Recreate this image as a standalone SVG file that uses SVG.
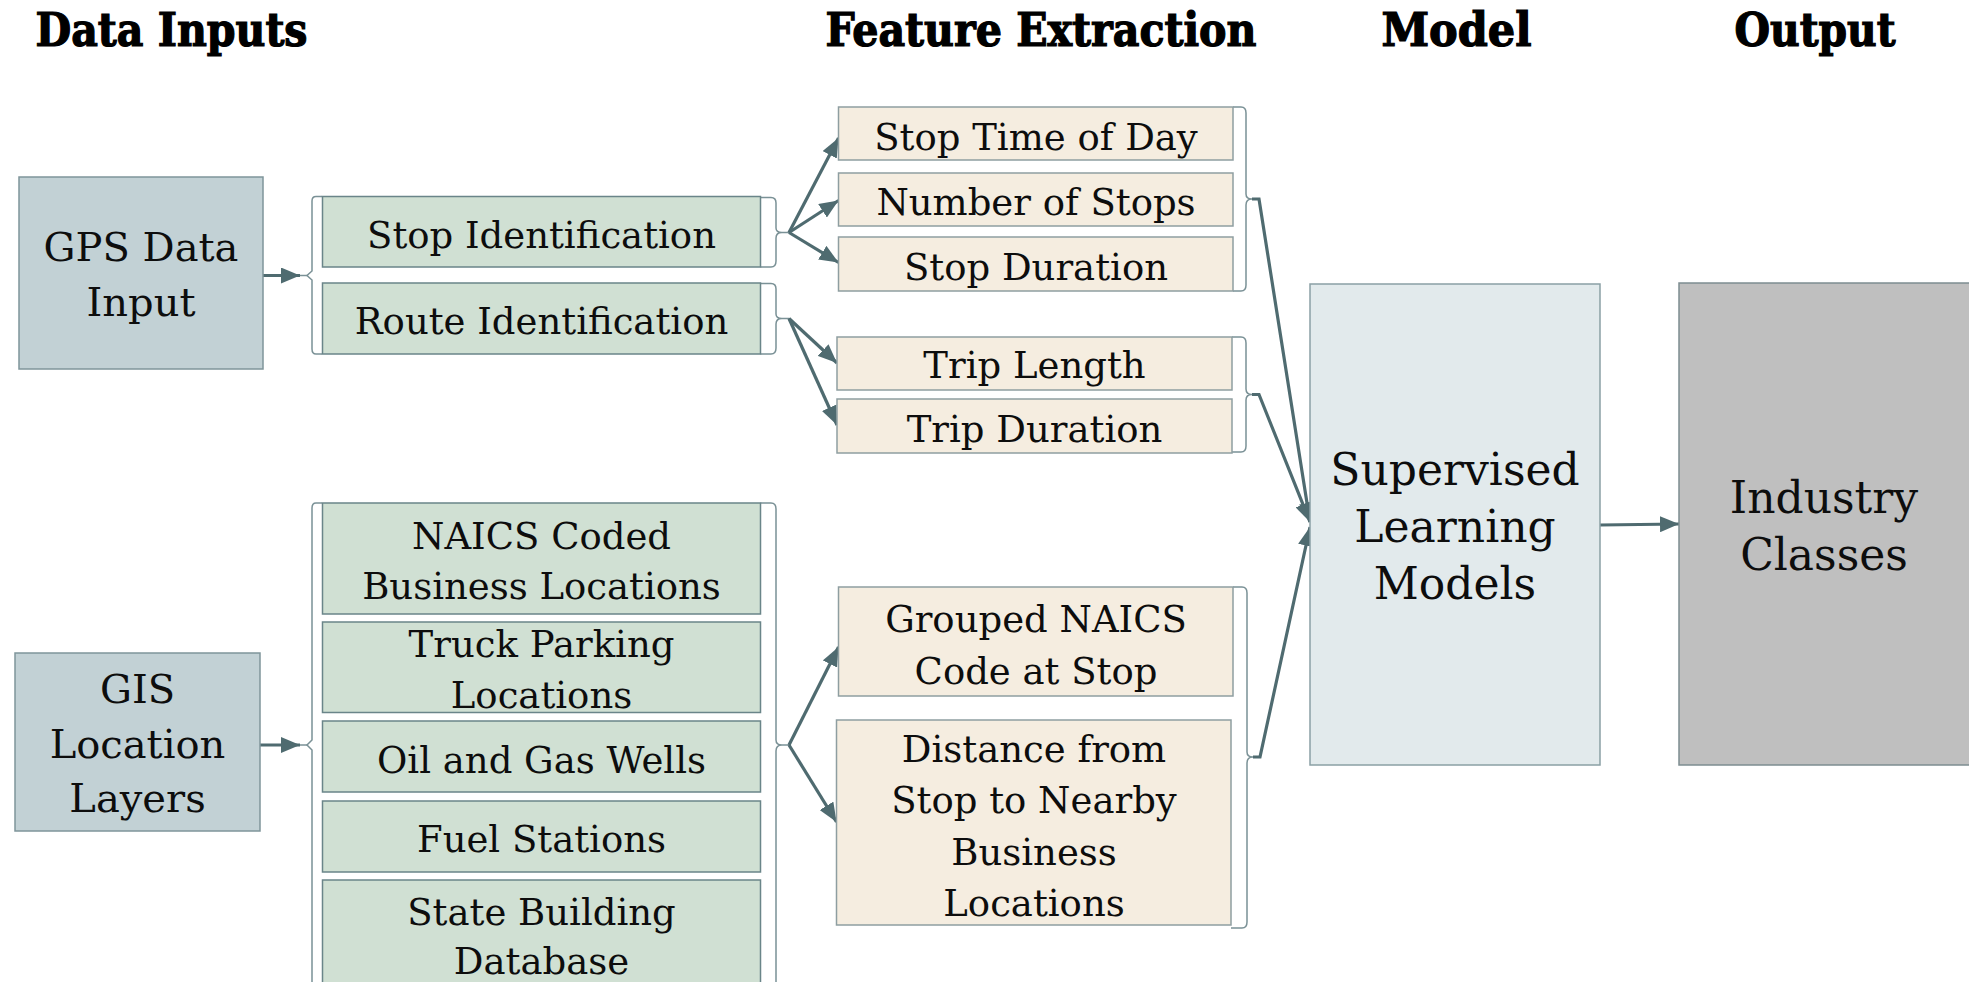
<svg xmlns="http://www.w3.org/2000/svg" width="1969" height="982" viewBox="0 0 1969 982">
  <style>
    .title { font-family: "DejaVu Serif Condensed", "DejaVu Serif", "Liberation Serif", serif; font-weight: bold; font-size: 46px; font-stretch: condensed; fill: #000; stroke: #000; stroke-width: 1.2; text-anchor: middle; }
    .t { font-family: "DejaVu Serif", "Liberation Serif", serif; fill: #0d0d0d; text-anchor: middle; }
    .s37 { font-size: 37px; }
    .s40 { font-size: 40px; }
    .s44 { font-size: 44px; }
    .src { fill: #c2d1d5; stroke: #7f959a; stroke-width: 1.5; }
    .step { fill: #d0e0d3; stroke: #6a8589; stroke-width: 1.5; }
    .feat { fill: #f5ede0; stroke: #8e9ea1; stroke-width: 1.5; }
    .model { fill: #e2eaec; stroke: #8aa0a5; stroke-width: 1.5; }
    .out { fill: #bfbfbf; stroke: #7d8d91; stroke-width: 1.5; }
    .brace { fill: none; stroke: #7a9196; stroke-width: 1.5; }
    .link { fill: none; stroke: #4f6b70; stroke-width: 3.2; }
  </style>
  <defs>
    <marker id="arrow" viewBox="0 0 19 16" refX="19" refY="8" markerWidth="19" markerHeight="16" markerUnits="userSpaceOnUse" orient="auto">
      <path d="M0,0 L19,8 L0,16 Z" fill="#4f6b70"/>
    </marker>
  </defs>

  <!-- column headings -->
  <g id="headings">
    <text class="title" x="171.5" y="46" textLength="272" lengthAdjust="spacingAndGlyphs">Data Inputs</text>
    <text class="title" x="1041" y="46" textLength="431" lengthAdjust="spacingAndGlyphs">Feature Extraction</text>
    <text class="title" x="1456.5" y="46" textLength="150" lengthAdjust="spacingAndGlyphs">Model</text>
    <text class="title" x="1815" y="46" textLength="161" lengthAdjust="spacingAndGlyphs">Output</text>
  </g>

  <!-- brackets grouping the boxes -->
  <g id="brackets">
    <path class="brace" d="M322,196.5 H316 Q312,196.5 312,201 V271 L307,275.5 L312,280 V349 Q312,354 316,354 H322"/>
    <path class="brace" d="M760.5,197.5 H771 Q776,197.5 776,203 V228 Q776,232.5 782,232.5 H789 M782,232.5 Q776,232.5 776,238 V261 Q776,267 771,267 H760.5"/>
    <path class="brace" d="M760.5,283.5 H771 Q776,283.5 776,289 V314 Q776,318.5 782,318.5 H789 M782,318.5 Q776,318.5 776,324 V348 Q776,354 771,354 H760.5"/>
    <path class="brace" d="M322,503 H316 Q312,503 312,508 V740 L307,745 L312,750 V990"/>
    <path class="brace" d="M760.5,503 H771 Q776,503 776,509 V740 Q776,745 782,745 H789 M782,745 Q776,745 776,751 V990"/>
    <path class="brace" d="M1233,107 H1241 Q1246,107 1246,113 V194 Q1246,199 1252,199 M1252,199 Q1246,199 1246,205 V285 Q1246,291 1241,291 H1233"/>
    <path class="brace" d="M1232,337 H1241 Q1246,337 1246,343 V389 Q1246,394.5 1252,394.5 M1252,394.5 Q1246,394.5 1246,400 V446 Q1246,452 1241,452 H1232"/>
    <path class="brace" d="M1233,587 H1242 Q1247,587 1247,593 V752 Q1247,757 1253,757 M1253,757 Q1247,757 1247,763 V922 Q1247,928 1242,928 H1231"/>
  </g>

  <!-- connectors -->
  <g id="connectors">
    <line class="link" x1="263" y1="275.5" x2="300" y2="275.5" marker-end="url(#arrow)"/>
    <line class="brace" x1="300" y1="275.5" x2="307" y2="275.5"/>
    <line class="link" x1="260" y1="745" x2="300" y2="745" marker-end="url(#arrow)"/>
    <line class="brace" x1="300" y1="745" x2="307" y2="745"/>

    <line class="link" x1="789" y1="232.5" x2="838.5" y2="138" marker-end="url(#arrow)"/>
    <line class="link" x1="789" y1="232.5" x2="838.5" y2="200.5" marker-end="url(#arrow)"/>
    <line class="link" x1="789" y1="232.5" x2="838.5" y2="262.5" marker-end="url(#arrow)"/>

    <line class="link" x1="789" y1="318.5" x2="837" y2="363" marker-end="url(#arrow)"/>
    <line class="link" x1="789" y1="318.5" x2="837" y2="425" marker-end="url(#arrow)"/>

    <line class="link" x1="789" y1="745" x2="838.5" y2="647" marker-end="url(#arrow)"/>
    <line class="link" x1="789" y1="745" x2="836.5" y2="822" marker-end="url(#arrow)"/>

    <polyline class="link" points="1252,199 1259,199 1310,522" marker-end="url(#arrow)"/>
    <polyline class="link" points="1252,394.5 1259,394.5 1310,522" marker-end="url(#arrow)"/>
    <polyline class="link" points="1253,757 1260,757 1310,527" marker-end="url(#arrow)"/>

    <line class="link" x1="1600" y1="525" x2="1679" y2="524" marker-end="url(#arrow)"/>
  </g>

  <!-- data inputs -->
  <g id="gps-data-input">
    <rect class="src" x="19" y="177" width="244" height="192"/>
    <text class="t s40" x="141" y="261">GPS Data</text>
    <text class="t s40" x="141" y="316">Input</text>
  </g>
  <g id="gis-location-layers">
    <rect class="src" x="15" y="653" width="245" height="178"/>
    <text class="t s40" x="137.5" y="702.5">GIS</text>
    <text class="t s40" x="137.5" y="757.5">Location</text>
    <text class="t s40" x="137.5" y="812">Layers</text>
  </g>

  <!-- processing steps -->
  <g id="stop-identification">
    <rect class="step" x="322.5" y="196.5" width="438" height="70.5"/>
    <text class="t s37" x="541.5" y="248">Stop Identification</text>
  </g>
  <g id="route-identification">
    <rect class="step" x="322.5" y="283" width="438" height="71"/>
    <text class="t s37" x="541.5" y="334">Route Identification</text>
  </g>
  <g id="naics-business-locations">
    <rect class="step" x="322.5" y="503" width="438" height="111"/>
    <text class="t s37" x="541.5" y="548.5">NAICS Coded</text>
    <text class="t s37" x="541.5" y="599">Business Locations</text>
  </g>
  <g id="truck-parking">
    <rect class="step" x="322.5" y="622" width="438" height="90.5"/>
    <text class="t s37" x="541.5" y="657">Truck Parking</text>
    <text class="t s37" x="541.5" y="708">Locations</text>
  </g>
  <g id="oil-gas-wells">
    <rect class="step" x="322.5" y="721" width="438" height="71"/>
    <text class="t s37" x="541.5" y="772.5">Oil and Gas Wells</text>
  </g>
  <g id="fuel-stations">
    <rect class="step" x="322.5" y="801" width="438" height="71"/>
    <text class="t s37" x="541.5" y="851.5">Fuel Stations</text>
  </g>
  <g id="state-building-database">
    <rect class="step" x="322.5" y="880" width="438" height="107"/>
    <text class="t s37" x="541.5" y="925">State Building</text>
    <text class="t s37" x="541.5" y="974">Database</text>
  </g>

  <!-- extracted features -->
  <g id="stop-time-of-day">
    <rect class="feat" x="838.5" y="107" width="394.5" height="53"/>
    <text class="t s37" x="1036" y="149.5">Stop Time of Day</text>
  </g>
  <g id="number-of-stops">
    <rect class="feat" x="838.5" y="173" width="394.5" height="53"/>
    <text class="t s37" x="1036" y="215">Number of Stops</text>
  </g>
  <g id="stop-duration">
    <rect class="feat" x="838.5" y="237" width="394.5" height="54"/>
    <text class="t s37" x="1036" y="279.5">Stop Duration</text>
  </g>
  <g id="trip-length">
    <rect class="feat" x="837" y="337" width="395" height="53"/>
    <text class="t s37" x="1034.5" y="378">Trip Length</text>
  </g>
  <g id="trip-duration">
    <rect class="feat" x="837" y="399" width="395" height="54"/>
    <text class="t s37" x="1034.5" y="441.5">Trip Duration</text>
  </g>
  <g id="grouped-naics-code">
    <rect class="feat" x="838.5" y="587" width="394.5" height="109"/>
    <text class="t s37" x="1036" y="631.5">Grouped NAICS</text>
    <text class="t s37" x="1036" y="683.5">Code at Stop</text>
  </g>
  <g id="distance-to-business">
    <rect class="feat" x="836.5" y="720" width="394.5" height="205"/>
    <text class="t s37" x="1034" y="761.5">Distance from</text>
    <text class="t s37" x="1034" y="813">Stop to Nearby</text>
    <text class="t s37" x="1034" y="864.5">Business</text>
    <text class="t s37" x="1034" y="916">Locations</text>
  </g>

  <!-- model -->
  <g id="supervised-learning-models">
    <rect class="model" x="1310" y="284" width="290" height="481"/>
    <text class="t s44" x="1455" y="485">Supervised</text>
    <text class="t s44" x="1455" y="542">Learning</text>
    <text class="t s44" x="1455" y="599">Models</text>
  </g>

  <!-- output -->
  <g id="industry-classes">
    <rect class="out" x="1679" y="283" width="300" height="482"/>
    <text class="t s44" x="1824" y="513">Industry</text>
    <text class="t s44" x="1824" y="570">Classes</text>
  </g>
</svg>
